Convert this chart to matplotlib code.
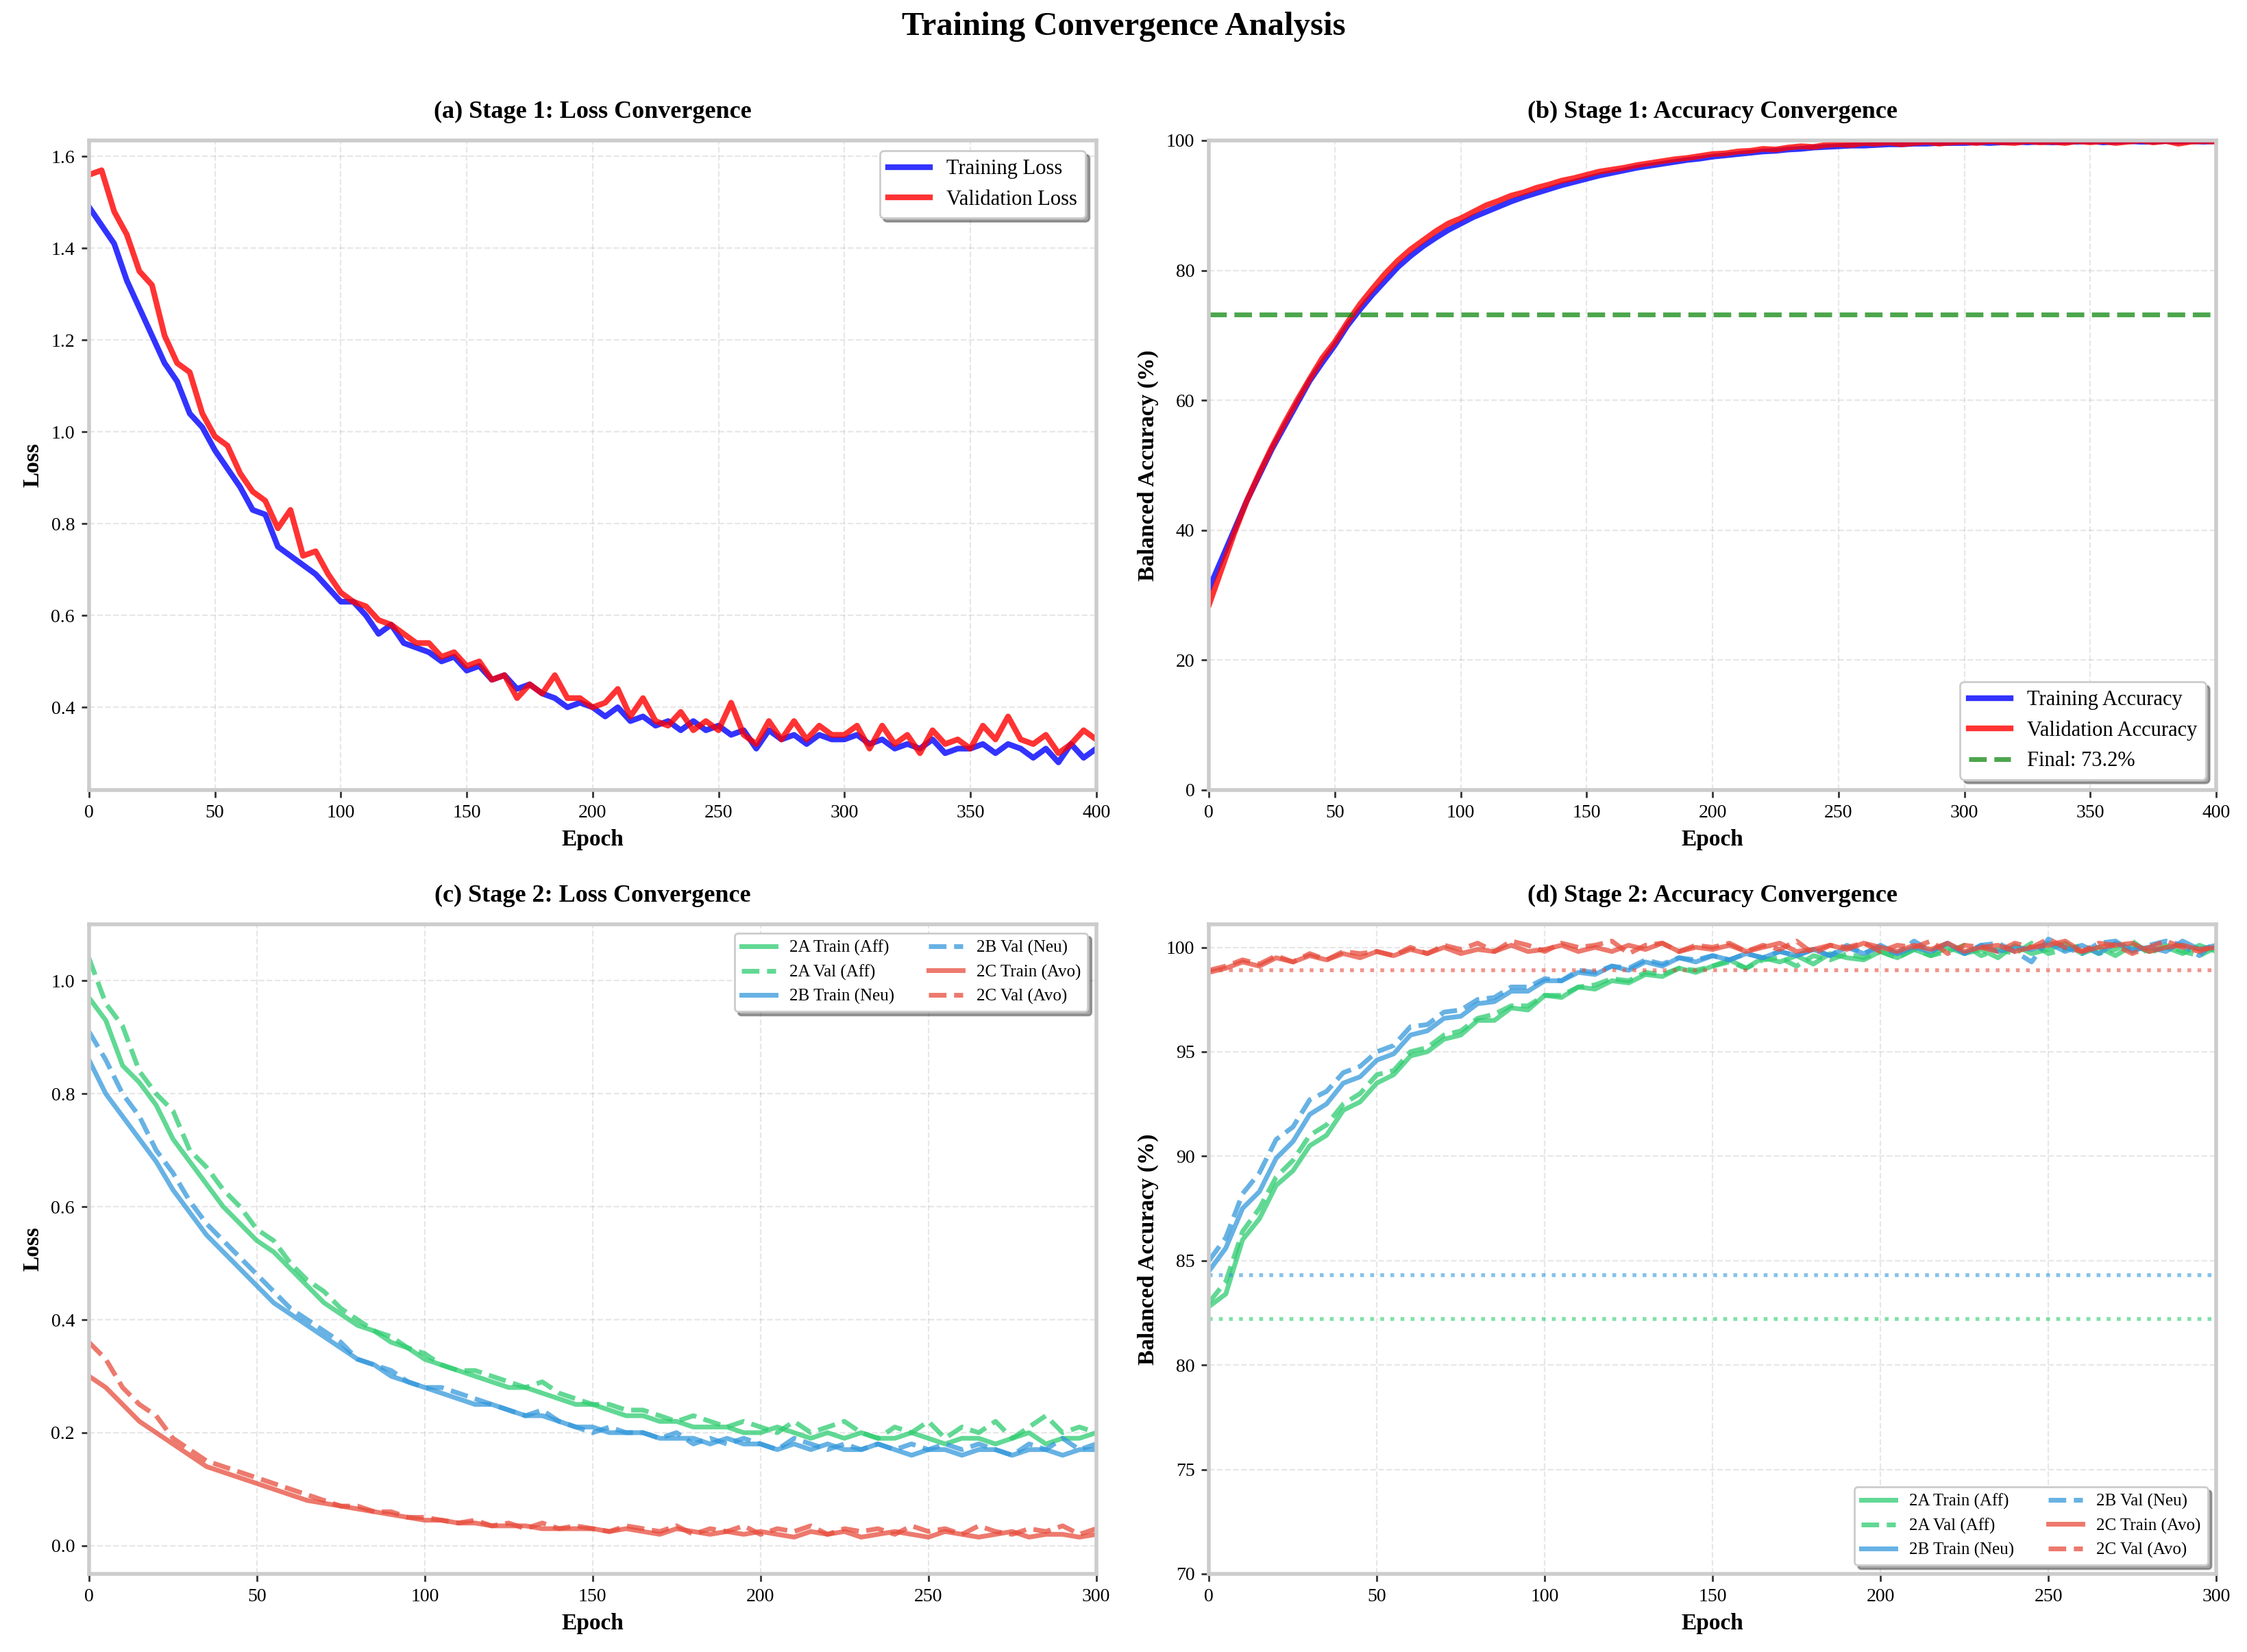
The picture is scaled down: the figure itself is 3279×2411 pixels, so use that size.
import numpy as np
import matplotlib
matplotlib.use("Agg")
import matplotlib.pyplot as plt

plt.rcParams['font.family'] = ['Liberation Serif', 'DejaVu Serif']
plt.rcParams['axes.edgecolor'] = '#cccccc'
plt.rcParams['axes.linewidth'] = 1.5

# ---- stage 1 (every 5 epochs, 0..400) ----
s1_epochs = np.arange(0, 401, 5)
s1_train_loss = [1.49, 1.45, 1.41, 1.33, 1.27, 1.21, 1.15, 1.11, 1.04, 1.01,
                 0.96, 0.92, 0.88, 0.83, 0.82, 0.75, 0.73, 0.71, 0.69, 0.66,
                 0.63, 0.63, 0.60, 0.56, 0.58, 0.54, 0.53, 0.52, 0.50, 0.51,
                 0.48, 0.49, 0.46, 0.47, 0.44, 0.45, 0.43, 0.42, 0.40, 0.41,
                 0.40, 0.38, 0.40, 0.37, 0.38, 0.36, 0.37, 0.35, 0.37, 0.35,
                 0.36, 0.34, 0.35, 0.31, 0.35, 0.33, 0.34, 0.32, 0.34, 0.33,
                 0.33, 0.34, 0.32, 0.33, 0.31, 0.32, 0.31, 0.33, 0.30, 0.31,
                 0.31, 0.32, 0.30, 0.32, 0.31, 0.29, 0.31, 0.28, 0.32, 0.29,
                 0.31]
s1_val_loss = [1.56, 1.57, 1.48, 1.43, 1.35, 1.32, 1.21, 1.15, 1.13, 1.04,
               0.99, 0.97, 0.91, 0.87, 0.85, 0.79, 0.83, 0.73, 0.74, 0.69,
               0.65, 0.63, 0.62, 0.59, 0.58, 0.56, 0.54, 0.54, 0.51, 0.52,
               0.49, 0.50, 0.46, 0.47, 0.42, 0.45, 0.43, 0.47, 0.42, 0.42,
               0.40, 0.41, 0.44, 0.38, 0.42, 0.37, 0.36, 0.39, 0.35, 0.37,
               0.35, 0.41, 0.34, 0.32, 0.37, 0.33, 0.37, 0.33, 0.36, 0.34,
               0.34, 0.36, 0.31, 0.36, 0.32, 0.34, 0.30, 0.35, 0.32, 0.33,
               0.31, 0.36, 0.33, 0.38, 0.33, 0.32, 0.34, 0.30, 0.32, 0.35,
               0.33]
s1_train_acc = [31.0, 35.5, 40.0, 44.5, 48.5, 52.5, 56.0, 59.5, 63.0, 65.8,
                68.5, 71.5, 74.0, 76.3, 78.4, 80.5, 82.2, 83.7, 85.0, 86.2,
                87.2, 88.2, 89.0, 89.8, 90.6, 91.3, 91.9, 92.5, 93.1, 93.6,
                94.1, 94.6, 95.0, 95.4, 95.8, 96.1, 96.4, 96.7, 97.0, 97.2,
                97.5, 97.7, 97.9, 98.1, 98.3, 98.4, 98.6, 98.7, 98.9, 99.0,
                99.1, 99.2, 99.2, 99.3, 99.4, 99.4, 99.5, 99.5, 99.6, 99.6,
                99.6, 99.7, 99.6, 99.7, 99.8, 99.7, 99.8, 99.7, 99.8, 99.8,
                99.9, 99.7, 99.8, 99.9, 99.8, 99.8, 99.9, 99.8, 99.9, 99.8,
                99.9]
s1_val_acc = [28.5, 34.0, 39.5, 44.5, 48.8, 52.8, 56.5, 60.0, 63.3, 66.5,
              69.0, 72.0, 74.8, 77.2, 79.5, 81.5, 83.2, 84.6, 86.0, 87.2,
              88.0, 89.0, 90.0, 90.7, 91.5, 92.0, 92.7, 93.2, 93.8, 94.2,
              94.7, 95.2, 95.5, 95.8, 96.2, 96.5, 96.8, 97.1, 97.3, 97.6,
              97.9, 98.0, 98.3, 98.4, 98.7, 98.6, 98.9, 99.1, 99.0, 99.3,
              99.4, 99.3, 99.6, 99.5, 99.7, 99.4, 99.6, 99.8, 99.5, 99.7,
              99.8, 99.6, 99.9, 99.7, 99.6, 99.9, 99.7, 99.8, 99.6, 99.9,
              99.7, 99.9, 99.6, 99.8, 100.0, 99.7, 99.9, 99.5, 99.8, 99.9,
              99.8]
s1_final_acc = 73.2

# ---- stage 2 (every 5 epochs, 0..300) ----
s2_epochs = np.arange(0, 301, 5)
s2_names = ['2A', '2B', '2C']
s2_tags = ['Aff', 'Neu', 'Avo']
s2_colors = ['#2ecc71', '#3498db', '#e74c3c']

s2_train_loss = [
    [0.97, 0.93, 0.85, 0.82, 0.78, 0.72, 0.68, 0.64, 0.60, 0.57,
     0.54, 0.52, 0.49, 0.46, 0.43, 0.41, 0.39, 0.38, 0.36, 0.35,
     0.33, 0.32, 0.31, 0.30, 0.29, 0.28, 0.28, 0.27, 0.26, 0.25,
     0.25, 0.24, 0.23, 0.23, 0.22, 0.22, 0.21, 0.21, 0.21, 0.20,
     0.20, 0.21, 0.20, 0.19, 0.20, 0.19, 0.20, 0.19, 0.19, 0.20,
     0.19, 0.18, 0.19, 0.19, 0.18, 0.19, 0.20, 0.18, 0.19, 0.19, 0.20],
    [0.86, 0.80, 0.76, 0.72, 0.68, 0.63, 0.59, 0.55, 0.52, 0.49,
     0.46, 0.43, 0.41, 0.39, 0.37, 0.35, 0.33, 0.32, 0.30, 0.29,
     0.28, 0.27, 0.26, 0.25, 0.25, 0.24, 0.23, 0.23, 0.22, 0.21,
     0.21, 0.20, 0.20, 0.20, 0.19, 0.19, 0.19, 0.18, 0.19, 0.18,
     0.18, 0.17, 0.18, 0.17, 0.18, 0.17, 0.17, 0.18, 0.17, 0.16,
     0.17, 0.17, 0.16, 0.17, 0.17, 0.16, 0.17, 0.17, 0.16, 0.17, 0.17],
    [0.30, 0.28, 0.25, 0.22, 0.20, 0.18, 0.16, 0.14, 0.13, 0.12,
     0.11, 0.10, 0.09, 0.08, 0.075, 0.07, 0.065, 0.06, 0.055, 0.05,
     0.045, 0.045, 0.04, 0.04, 0.035, 0.035, 0.035, 0.03, 0.03, 0.03,
     0.03, 0.025, 0.03, 0.025, 0.02, 0.03, 0.025, 0.02, 0.025, 0.02,
     0.025, 0.02, 0.015, 0.025, 0.02, 0.025, 0.015, 0.02, 0.025, 0.02,
     0.015, 0.025, 0.02, 0.015, 0.02, 0.025, 0.015, 0.02, 0.02, 0.015, 0.02],
]
s2_val_loss = [
    [1.04, 0.96, 0.92, 0.84, 0.80, 0.77, 0.70, 0.67, 0.63, 0.60,
     0.56, 0.54, 0.50, 0.47, 0.45, 0.42, 0.40, 0.38, 0.37, 0.35,
     0.34, 0.32, 0.31, 0.31, 0.30, 0.29, 0.28, 0.29, 0.27, 0.26,
     0.25, 0.25, 0.24, 0.24, 0.23, 0.22, 0.23, 0.22, 0.21, 0.22,
     0.21, 0.20, 0.22, 0.20, 0.21, 0.22, 0.20, 0.19, 0.21, 0.20,
     0.22, 0.19, 0.21, 0.20, 0.22, 0.19, 0.21, 0.23, 0.20, 0.21, 0.20],
    [0.91, 0.86, 0.80, 0.76, 0.70, 0.66, 0.61, 0.57, 0.54, 0.51,
     0.48, 0.45, 0.42, 0.40, 0.38, 0.36, 0.33, 0.32, 0.31, 0.29,
     0.28, 0.28, 0.27, 0.26, 0.25, 0.24, 0.23, 0.24, 0.22, 0.21,
     0.20, 0.21, 0.20, 0.20, 0.19, 0.20, 0.18, 0.19, 0.18, 0.19,
     0.18, 0.17, 0.19, 0.18, 0.17, 0.18, 0.17, 0.18, 0.17, 0.18,
     0.17, 0.18, 0.17, 0.18, 0.17, 0.16, 0.18, 0.17, 0.19, 0.17, 0.18],
    [0.36, 0.33, 0.28, 0.25, 0.23, 0.19, 0.17, 0.15, 0.14, 0.13,
     0.12, 0.11, 0.10, 0.09, 0.08, 0.07, 0.07, 0.06, 0.06, 0.05,
     0.05, 0.045, 0.04, 0.045, 0.035, 0.04, 0.03, 0.04, 0.03, 0.035,
     0.03, 0.025, 0.035, 0.03, 0.025, 0.035, 0.02, 0.03, 0.025, 0.035,
     0.02, 0.03, 0.025, 0.035, 0.02, 0.03, 0.025, 0.03, 0.02, 0.035,
     0.025, 0.03, 0.02, 0.035, 0.025, 0.02, 0.03, 0.025, 0.035, 0.02, 0.03],
]
s2_train_acc = [
    [82.8, 83.4, 86.0, 87.0, 88.6, 89.3, 90.5, 91.0, 92.2, 92.6,
     93.5, 93.9, 94.8, 95.0, 95.6, 95.8, 96.5, 96.5, 97.1, 97.0,
     97.7, 97.6, 98.1, 98.0, 98.4, 98.3, 98.7, 98.6, 99.0, 98.8,
     99.1, 99.4, 99.0, 99.5, 99.3, 99.6, 99.2, 99.7, 99.5, 99.4,
     99.8, 99.5, 99.9, 99.6, 100.0, 99.7, 99.9, 99.5, 100.1, 99.7,
     99.9, 100.2, 99.7, 100.0, 99.6, 100.1, 99.8, 100.0, 99.7, 100.1, 99.8],
    [84.5, 85.6, 87.5, 88.3, 89.9, 90.7, 92.0, 92.5, 93.5, 93.8,
     94.6, 94.9, 95.8, 96.0, 96.6, 96.7, 97.3, 97.4, 97.9, 97.9,
     98.4, 98.4, 98.8, 98.7, 99.1, 98.9, 99.3, 99.1, 99.5, 99.3,
     99.6, 99.4, 99.7, 99.5, 99.8, 99.6, 99.9, 99.6, 100.0, 99.7,
     100.1, 99.7, 100.0, 99.8, 100.2, 99.7, 100.1, 99.8, 100.0, 99.9,
     100.2, 99.8, 100.1, 99.7, 100.2, 99.9, 100.0, 99.8, 100.3, 99.9, 100.1],
    [98.8, 99.0, 99.3, 99.1, 99.5, 99.3, 99.6, 99.4, 99.7, 99.5,
     99.8, 99.6, 99.9, 99.7, 100.0, 99.7, 99.9, 99.8, 100.1, 99.8,
     99.9, 100.1, 99.8, 100.0, 99.8, 100.1, 99.9, 100.2, 99.8, 100.0,
     99.9, 100.1, 99.8, 100.0, 100.2, 99.8, 99.9, 100.1, 99.9, 100.2,
     100.0, 99.8, 100.1, 99.9, 100.2, 99.8, 100.0, 100.1, 99.8, 100.0,
     100.1, 100.3, 99.8, 100.0, 100.1, 100.2, 99.8, 100.0, 100.1, 99.9, 100.0],
]
s2_val_acc = [
    [83.0, 84.0, 86.4, 87.5, 89.0, 89.8, 91.0, 91.5, 92.5, 93.0,
     93.9, 94.1, 95.0, 95.2, 95.8, 96.0, 96.6, 96.8, 97.2, 97.2,
     97.7, 97.7, 98.1, 98.2, 98.5, 98.4, 98.8, 98.7, 99.0, 98.9,
     99.1, 99.3, 99.0, 99.4, 99.5, 99.1, 99.6, 99.4, 99.7, 99.5,
     99.8, 99.5, 99.9, 99.6, 99.8, 100.1, 99.6, 99.9, 99.7, 100.2,
     99.7, 99.9, 100.1, 99.7, 99.9, 100.3, 99.7, 100.1, 99.8, 99.6, 100.0],
    [85.0, 86.1, 88.2, 89.2, 90.8, 91.4, 92.7, 93.1, 94.0, 94.3,
     95.0, 95.3, 96.2, 96.3, 96.9, 97.0, 97.5, 97.6, 98.1, 98.1,
     98.5, 98.4, 98.9, 98.8, 99.1, 99.0, 99.4, 99.2, 99.5, 99.4,
     99.6, 99.4, 99.7, 99.5, 99.8, 99.6, 99.9, 99.6, 100.1, 99.7,
     100.0, 99.7, 100.3, 99.8, 100.2, 99.7, 100.1, 100.2, 99.8, 99.3,
     100.4, 100.0, 99.7, 100.2, 100.3, 99.8, 100.1, 100.3, 100.1, 99.6, 100.3],
    [98.9, 99.1, 99.4, 99.2, 99.6, 99.3, 99.7, 99.4, 99.8, 99.7,
     99.8, 99.6, 100.0, 99.7, 100.1, 99.9, 100.2, 99.8, 100.3, 100.1,
     99.8, 100.2, 100.0, 100.1, 100.3, 99.7, 100.1, 100.2, 99.8, 100.1,
     100.0, 100.2, 99.8, 100.1, 99.9, 100.3, 99.7, 100.1, 100.0, 100.2,
     99.8, 100.1, 100.0, 100.3, 99.7, 100.1, 100.0, 99.8, 100.2, 100.0,
     100.4, 100.0, 99.8, 100.2, 100.1, 99.7, 100.0, 100.3, 100.0, 99.8, 100.1],
]
s2_baseline_acc = [82.2, 84.3, 98.9]


def style_axes(ax, title, ylabel):
    ax.set_title(title, fontsize=13, fontweight='bold', pad=12)
    ax.set_xlabel('Epoch', fontsize=12, fontweight='bold')
    ax.set_ylabel(ylabel, fontsize=12, fontweight='bold')
    ax.grid(True, linestyle='--', alpha=0.3)
    ax.tick_params(direction='out', length=4, width=1, labelsize=10, color='#333333')
    for sp in ax.spines.values():
        sp.set_color('#cccccc')
        sp.set_linewidth(2)


fig, axes = plt.subplots(2, 2, figsize=(16.4, 12.055))
fig.subplots_adjust(left=0.0396, right=0.986, top=0.915, bottom=0.0473,
                    wspace=0.112, hspace=0.207)

# (a)
ax = axes[0, 0]
ax.plot(s1_epochs, s1_train_loss, color='blue', alpha=0.8, lw=3, label='Training Loss')
ax.plot(s1_epochs, s1_val_loss, color='red', alpha=0.8, lw=3, label='Validation Loss')
ax.set_xlim(0, 400)
ax.set_ylim(0.22, 1.635)
style_axes(ax, '(a) Stage 1: Loss Convergence', 'Loss')
ax.legend(loc='upper right', fontsize=11, shadow=True, fancybox=True, edgecolor='#cccccc')

# (b)
ax = axes[0, 1]
ax.plot(s1_epochs, s1_train_acc, color='blue', alpha=0.8, lw=3, label='Training Accuracy')
ax.plot(s1_epochs, s1_val_acc, color='red', alpha=0.8, lw=3, label='Validation Accuracy')
ax.axhline(s1_final_acc, color='green', ls='--', lw=2.5, alpha=0.7,
           label=f'Final: {s1_final_acc:.1f}%')
ax.set_xlim(0, 400)
ax.set_ylim(0, 100)
style_axes(ax, '(b) Stage 1: Accuracy Convergence', 'Balanced Accuracy (%)')
ax.legend(loc='lower right', fontsize=11, shadow=True, fancybox=True, edgecolor='#cccccc')

# (c)
ax = axes[1, 0]
for i, name in enumerate(s2_names):
    ax.plot(s2_epochs, s2_train_loss[i], color=s2_colors[i], lw=2.5, alpha=0.75,
            label=f'{name} Train ({s2_tags[i]})')
    ax.plot(s2_epochs, s2_val_loss[i], color=s2_colors[i], lw=2.5, alpha=0.75, ls='--',
            label=f'{name} Val ({s2_tags[i]})')
ax.set_xlim(0, 300)
ax.set_ylim(-0.05, 1.1)
style_axes(ax, '(c) Stage 2: Loss Convergence', 'Loss')
ax.legend(loc='upper right', ncol=2, fontsize=9, shadow=True, fancybox=True, edgecolor='#cccccc')

# (d)
ax = axes[1, 1]
for i, name in enumerate(s2_names):
    ax.plot(s2_epochs, s2_train_acc[i], color=s2_colors[i], lw=2.5, alpha=0.75,
            label=f'{name} Train ({s2_tags[i]})')
    ax.plot(s2_epochs, s2_val_acc[i], color=s2_colors[i], lw=2.5, alpha=0.75, ls='--',
            label=f'{name} Val ({s2_tags[i]})')
for i, base in enumerate(s2_baseline_acc):
    ax.axhline(base, color=s2_colors[i], ls=':', lw=2, alpha=0.6)
ax.set_xlim(0, 300)
ax.set_ylim(70, 101.1)
style_axes(ax, '(d) Stage 2: Accuracy Convergence', 'Balanced Accuracy (%)')
ax.legend(loc='lower right', ncol=2, fontsize=9, shadow=True, fancybox=True, edgecolor='#cccccc')

fig.suptitle('Training Convergence Analysis', fontsize=17.5, fontweight='bold', y=0.984, va='center')

fig.savefig('out.png', dpi=200)
